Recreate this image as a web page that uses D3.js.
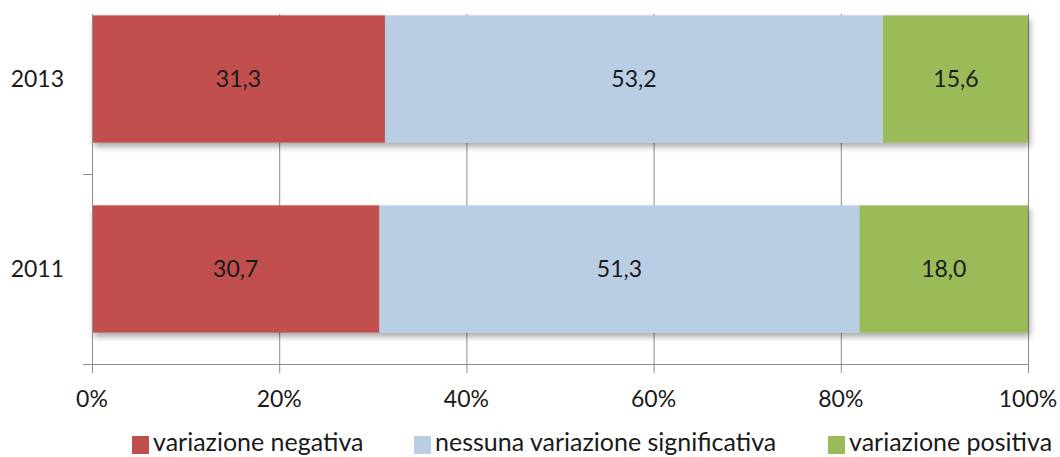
<!DOCTYPE html>
<html>
<head>
<meta charset="utf-8">
<script src="https://cdn.jsdelivr.net/npm/d3@7"></script>
<style>
  body { margin: 0; background: #fff; }
  svg { display: block; }
  text { font-family: Lato, "Open Sans", sans-serif; fill: #1a1a1a; }
</style>
</head>
<body>
<svg id="chart" width="1060" height="457"></svg>
<script>
// Stacked 100% bar chart: change distribution by year
const years = ["2013", "2011"];
const seriesNames = ["variazione negativa", "nessuna variazione significativa", "variazione positiva"];
const negativa = [31.3, 30.7];
const nessuna = [53.2, 51.3];
const positiva = [15.6, 18.0];
const colors = ["#C0504D", "#B9CDE5", "#9BBB59"];
const xTicks = [0, 20, 40, 60, 80, 100];

const svg = d3.select("#chart");
const left = 92, right = 1028, plotTop = 14, plotBottom = 364;

const x = d3.scaleLinear().domain([0, 100]).range([left, right]);
const y = d3.scaleBand().domain(years).range([-16, plotBottom]).paddingInner(0.33).paddingOuter(0.165);

const rows = years.map((yr, i) => ({ year: yr, values: [negativa[i], nessuna[i], positiva[i]] }));

// drop shadow for the bars
const defs = svg.append("defs");
const f = defs.append("filter").attr("id", "shadow").attr("x", "-5%").attr("y", "-10%").attr("width", "115%").attr("height", "140%");
f.append("feGaussianBlur").attr("in", "SourceAlpha").attr("stdDeviation", 3);
f.append("feOffset").attr("dx", 2).attr("dy", 4).attr("result", "ob");
f.append("feComponentTransfer").append("feFuncA").attr("type", "linear").attr("slope", 0.35);
const m = f.append("feMerge");
m.append("feMergeNode");
m.append("feMergeNode").attr("in", "SourceGraphic");

// vertical gridlines
svg.append("g").selectAll("line").data(xTicks.slice(1)).join("line")
  .attr("x1", d => x(d) + 0.5).attr("x2", d => x(d) + 0.5)
  .attr("y1", plotTop).attr("y2", plotBottom)
  .attr("stroke", "#8c8c8c").attr("stroke-width", 1);

// bars (shadowed segments), then their value labels on top
const barG = svg.append("g");
const labelG = svg.append("g");
rows.forEach(r => {
  let acc = 0;
  const g = barG.append("g").attr("filter", "url(#shadow)");
  r.values.forEach((v, k) => {
    const x0 = acc;
    acc += v;
    g.append("rect")
      .attr("x", x(x0)).attr("width", x(Math.min(acc, 100)) - x(x0))
      .attr("y", y(r.year)).attr("height", y.bandwidth())
      .attr("fill", colors[k]);
    labelG.append("text")
      .attr("x", x(x0 + v / 2)).attr("y", y(r.year) + y.bandwidth() / 2)
      .attr("text-anchor", "middle").attr("dy", "0.36em")
      .attr("font-size", 23)
      .text(v.toFixed(1).replace(".", ","));
  });
});

// y axis line and ticks
const axisG = svg.append("g").attr("stroke", "#8c8c8c").attr("stroke-width", 1);
axisG.append("line").attr("x1", left + 0.5).attr("x2", left + 0.5).attr("y1", plotTop).attr("y2", plotBottom);
const catEdges = [-16 + y.step(), plotBottom];
axisG.selectAll(".yt").data(catEdges).join("line")
  .attr("x1", left - 9).attr("x2", left)
  .attr("y1", d => Math.round(d) + 0.5).attr("y2", d => Math.round(d) + 0.5);

// x axis line and ticks
axisG.append("line").attr("x1", left).attr("x2", right + 1).attr("y1", plotBottom + 0.5).attr("y2", plotBottom + 0.5);
axisG.selectAll(".xt").data(xTicks).join("line")
  .attr("x1", d => x(d) + 0.5).attr("x2", d => x(d) + 0.5)
  .attr("y1", plotBottom).attr("y2", plotBottom + 9);

// x tick labels
svg.append("g").selectAll("text").data(xTicks).join("text")
  .attr("x", d => x(d)).attr("y", 407)
  .attr("text-anchor", "middle").attr("font-size", 23)
  .text(d => d + "%");

// y category labels
svg.append("g").selectAll("text").data(years).join("text")
  .attr("x", 64).attr("y", d => y(d) + y.bandwidth() / 2)
  .attr("dy", "0.36em").attr("text-anchor", "end").attr("font-size", 23)
  .text(d => d);

// legend
const legendX = [132, 414, 828];
const lg = svg.append("g");
seriesNames.forEach((name, k) => {
  lg.append("rect").attr("x", legendX[k]).attr("y", 436).attr("width", 17).attr("height", 18).attr("fill", colors[k]);
  lg.append("text").attr("x", legendX[k] + 21).attr("y", 451).attr("font-size", 25).text(name);
});
</script>
</body>
</html>
